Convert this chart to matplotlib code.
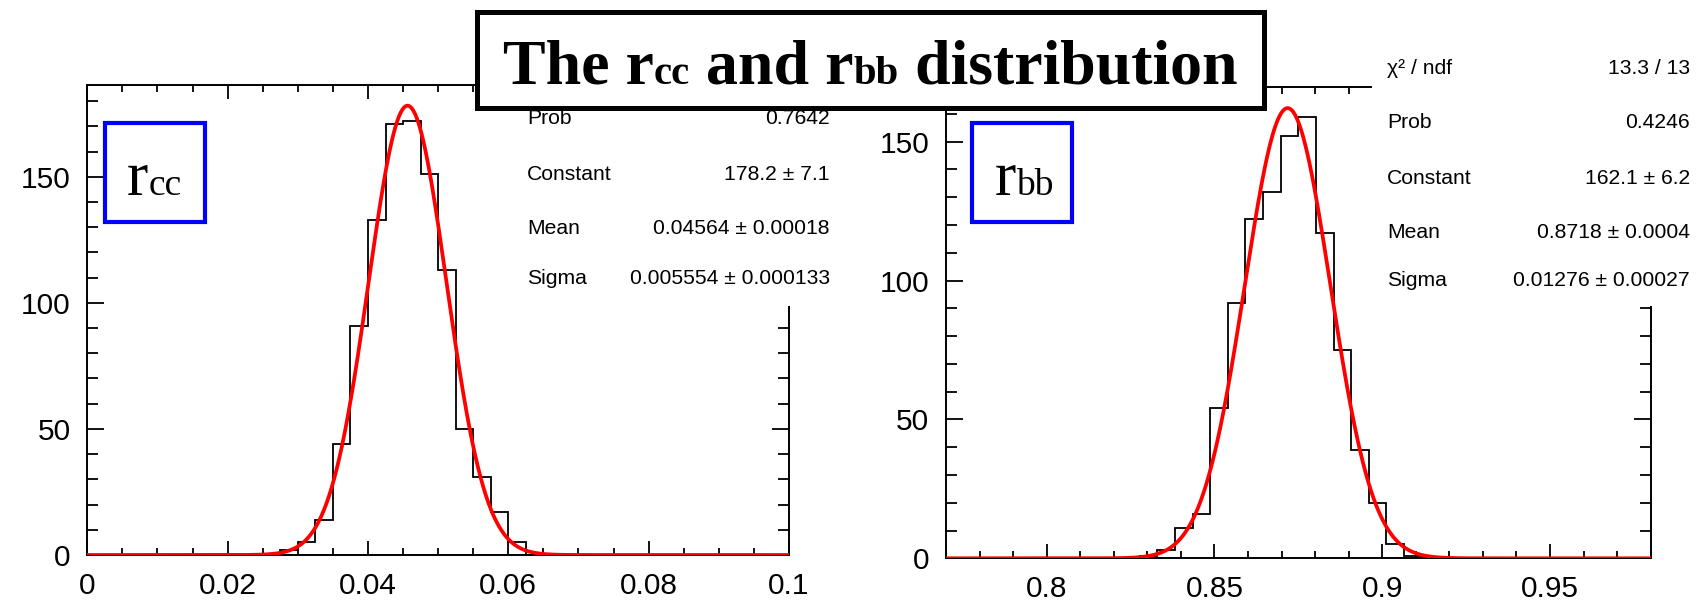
import numpy as np
import matplotlib.pyplot as plt
from matplotlib.patches import Rectangle

W, H = 1699, 601

# histogram contents (40 bins per histogram)
n_bins = 40
rcc_range = (0.0, 0.1)
rcc_first_bin = 11
rcc_counts = [2, 5, 14, 44, 91, 133, 171, 172, 151, 113, 50, 31, 17, 5]
rbb_range = (0.77, 0.98)
rbb_first_bin = 11
rbb_counts = [1, 3, 11, 16, 54, 92, 122, 132, 152, 159, 117, 75, 39, 20, 5, 1]

# gaussian fit results: Constant, Mean, Sigma
rcc_fit = (178.2, 0.04564, 0.005554)
rbb_fit = (162.1, 0.8718, 0.01276)

rcc_stats = [("Prob", "0.7642"),
             ("Constant", "178.2 ± 7.1"),
             ("Mean", "0.04564 ± 0.00018"),
             ("Sigma", "0.005554 ± 0.000133")]
rbb_stats = [("χ² / ndf", "13.3 / 13"),
             ("Prob", "0.4246"),
             ("Constant", "162.1 ± 6.2"),
             ("Mean", "0.8718 ± 0.0004"),
             ("Sigma", "0.01276 ± 0.00027")]

rcc_xticks = [0, 0.02, 0.04, 0.06, 0.08, 0.1]
rcc_xlabels = ["0", "0.02", "0.04", "0.06", "0.08", "0.1"]
rbb_xticks = [0.8, 0.85, 0.9, 0.95]
rbb_xlabels = ["0.8", "0.85", "0.9", "0.95"]
yticks = [0, 50, 100, 150]

sans = "Liberation Sans"
serif = "Liberation Serif"


def fx(x):
    return x / W


def fy(y):
    return 1 - y / H


def hist_panel(rect, rng, first, counts, fit, ytop, xticks, xlabels, xminor):
    ax = fig.add_axes(rect)
    edges = np.linspace(rng[0], rng[1], n_bins + 1)
    full = np.zeros(n_bins)
    full[first:first + len(counts)] = counts
    ax.stairs(full, edges, color="black", lw=1.3, zorder=2)
    c, m, s = fit
    xs = np.linspace(rng[0], rng[1], 800)
    ax.plot(xs, c * np.exp(-0.5 * ((xs - m) / s) ** 2), color="red", lw=2.7, zorder=3)
    ax.set_xlim(rng)
    ax.set_ylim(0, ytop)
    ax.set_xticks(xticks, xlabels)
    ax.set_xticks(np.arange(rng[0], rng[1] + 1e-9, xminor), minor=True)
    ax.set_yticks(yticks, [str(v) for v in yticks])
    ax.set_yticks(np.arange(0, ytop, 10), minor=True)
    for sp in ax.spines.values():
        sp.set_linewidth(1.4)
    ax.tick_params(which="both", direction="in", top=True, right=True, width=1.3,
                   labelsize=21.5, pad=12)
    ax.tick_params(axis="x", which="major", length=10)
    ax.tick_params(axis="x", which="minor", length=5)
    ax.tick_params(axis="y", which="major", length=12)
    ax.tick_params(axis="y", which="minor", length=8)
    for lab in ax.get_xticklabels() + ax.get_yticklabels():
        lab.set_family(sans)
    return ax


def put_runs(xc, y, runs, **kw):
    # pieces of text of different sizes on one baseline, centred on xc
    r = fig.canvas.get_renderer()
    texts = [fig.text(0, fy(y), s, fontsize=size, ha="left", va="baseline",
                      zorder=12, **kw) for s, size in runs]
    widths = [t.get_window_extent(r).width for t in texts]
    x = xc - sum(widths) / 2
    for t, w in zip(texts, widths):
        t.set_x(fx(x))
        x += w


def stats_box(x0, x1, y0, y1, tx, vx, ys, rows):
    fig.add_artist(Rectangle((fx(x0), fy(y1)), fx(x1 - x0), (y1 - y0) / H,
                             transform=fig.transFigure, facecolor="white",
                             edgecolor="none", zorder=5))
    for (name, val), y in zip(rows, ys):
        fig.text(fx(tx), fy(y), name, fontsize=15.2, family=sans, va="center",
                 ha="left", zorder=6)
        fig.text(fx(vx), fy(y), val, fontsize=15.2, family=sans, va="center",
                 ha="right", zorder=6)


fig = plt.figure(figsize=(W / 100, H / 100), dpi=100)

hist_panel([fx(87.3), fy(555), (789 - 87.3) / W, (555 - 85) / H],
           rcc_range, rcc_first_bin, rcc_counts, rcc_fit, 186.4,
           rcc_xticks, rcc_xlabels, 0.005)
hist_panel([fx(946), fy(558.3), (1650.7 - 946) / W, (558.3 - 86.7) / H],
           rbb_range, rbb_first_bin, rbb_counts, rbb_fit, 169.8,
           rbb_xticks, rbb_xlabels, 0.01)

# stat boxes (white, cover the frame like in ROOT)
stats_box(515, 845, 20, 306, 527, 830, [119, 174, 228, 279], rcc_stats)
stats_box(1372, 1699, 40, 306, 1387, 1690, [69, 123, 178, 232, 281], rbb_stats)

# blue label boxes
for x0 in (105, 972):
    fig.add_artist(Rectangle((fx(x0), fy(222)), fx(100), 99 / H,
                             transform=fig.transFigure, facecolor="white",
                             edgecolor=(0, 0, 1), lw=3, zorder=8))
put_runs(154.5, 195, [("r", 46), ("cc", 27)], family=serif)
put_runs(1024.5, 195, [("r", 46), ("bb", 27)], family=serif)

# title box
fig.add_artist(Rectangle((fx(477), fy(108)), fx(1264 - 477), (108 - 12) / H,
                         transform=fig.transFigure, facecolor="white",
                         edgecolor="black", lw=3.6, zorder=10))
put_runs(870.5, 84, [("The r", 46), ("cc", 29.3), (" and r", 46), ("bb", 29.3),
                     (" distribution", 46)], family=serif, weight="bold")

fig.savefig("out.png", dpi=100)
